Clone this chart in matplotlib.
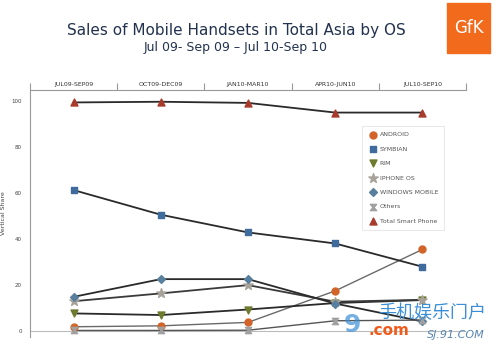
import numpy as np
import matplotlib
matplotlib.use("Agg")
import matplotlib.pyplot as plt
from matplotlib.path import Path

periods = ["JUL09-SEP09", "OCT09-DEC09", "JAN10-MAR10", "APR10-JUN10", "JUL10-SEP10"]

android = [1.9, 2.3, 3.8, 17.5, 35.5]
symbian = [61.3, 50.6, 42.9, 38.1, 28.0]
rim = [7.7, 7.0, 9.4, 12.2, 13.5]
iphone = [13.0, 16.4, 20.0, 12.8, 13.6]
winmo = [14.9, 22.6, 22.6, 12.0, 4.2]
others = [0.3, 0.3, 0.4, 4.5, 4.8]
total = [99.4, 99.7, 99.2, 95.0, 95.0]

# hourglass marker for "Others"
hourglass = Path([(-1, 1), (1, 1), (0.15, 0), (1, -1), (-1, -1), (-0.15, 0), (-1, 1)],
                 [Path.MOVETO] + [Path.LINETO] * 5 + [Path.CLOSEPOLY])

series = [
    ("ANDROID", android, "o", "#D2642A", "#6a6a6a", 1.0, 5),
    ("SYMBIAN", symbian, "s", "#3F6C9C", "#2a2a2a", 1.3, 5),
    ("RIM", rim, "v", "#6E7B2E", "#2a2a2a", 1.3, 5),
    ("IPHONE OS", iphone, "*", "#A8A39A", "#3a3a3a", 1.3, 7),
    ("WINDOWS MOBILE", winmo, "D", "#58809E", "#2a2a2a", 1.3, 4),
    ("Others", others, hourglass, "#A0A0A0", "#555555", 1.0, 4.5),
    ("Total Smart Phone", total, "^", "#A83C2C", "#2a2a2a", 1.3, 5),
]

fig = plt.figure(figsize=(5, 3.53), dpi=100)
ax = fig.add_axes([0.06, 0.045, 0.872, 0.70])
x = np.arange(len(periods))

handles = []
for name, vals, mk, col, lcol, lw, ms in series:
    ax.plot(x, vals, color=lcol, lw=lw, zorder=2)
    h = ax.scatter(x, vals, marker=mk, s=ms ** 2, color=col, edgecolors=col,
                   zorder=3, label=name)
    handles.append(h)

ax.axhline(0, color="#bbbbbb", lw=0.8, zorder=1)
ax.set_xlim(-0.5, 4.5)
ax.set_ylim(-2.6, 104.8)
ax.set_yticks([0, 20, 40, 60, 80, 100])
ax.tick_params(axis="y", labelsize=4, length=0, colors="#444444", pad=6)
ax.set_ylabel("Vertical Share", fontsize=4.5, color="#444444", labelpad=4)

ax.spines["right"].set_visible(False)
ax.spines["bottom"].set_visible(False)
ax.spines["left"].set_color("#999999")
ax.spines["top"].set_color("#999999")

ax.xaxis.tick_top()
ax.set_xticks(np.arange(-0.5, 5, 1))
ax.set_xticklabels([])
ax.set_xticks(x, minor=True)
ax.set_xticklabels(periods, minor=True)
ax.tick_params(axis="x", which="major", direction="out", length=5, color="#999999")
ax.tick_params(axis="x", which="minor", length=0, labelsize=4.5, colors="#333333", pad=2)

leg = ax.legend(handles=handles, loc="upper left", bbox_to_anchor=(0.755, 0.866),
                fontsize=4.5, frameon=True, fancybox=False, labelspacing=1.45,
                handletextpad=0.3, borderpad=0.9, markerscale=1.0, handlelength=1.6)
leg.get_frame().set_edgecolor("#dddddd")
leg.get_frame().set_linewidth(0.6)
for t in leg.get_texts():
    t.set_color("#555555")

fig.text(0.472, 0.915, "Sales of Mobile Handsets in Total Asia by OS", ha="center",
         va="center", fontsize=11, color="#22324f")
fig.text(0.472, 0.865, "Jul 09- Sep 09 \u2013 Jul 10-Sep 10", ha="center",
         va="center", fontsize=9, color="#22324f")

# GfK logo
fig.patches.append(plt.Rectangle((0.894, 0.85), 0.086, 0.142, transform=fig.transFigure,
                                 color="#F26B1D", zorder=5))
fig.text(0.937, 0.921, "GfK", ha="center", va="center", fontsize=12, color="white", zorder=6)

# watermark
fig.text(0.756, 0.113, "手机娱乐门户", ha="left", va="center", fontsize=13,
         color="#3B8FD8", family=["Noto Sans CJK SC", "DejaVu Sans"], style="italic", zorder=6)
fig.text(0.705, 0.08, "9", ha="center", va="center", fontsize=18, color="#3B8FD8",
         weight="bold", alpha=0.7, zorder=6)
fig.text(0.738, 0.063, ".com", ha="left", va="center", fontsize=11, color="#F05A1A",
         weight="bold", zorder=6)
fig.text(0.854, 0.05, "SJ.91.COM", ha="left", va="center", fontsize=8, color="#5a86b0",
         style="italic", zorder=6)

fig.savefig("out.png", dpi=100)
